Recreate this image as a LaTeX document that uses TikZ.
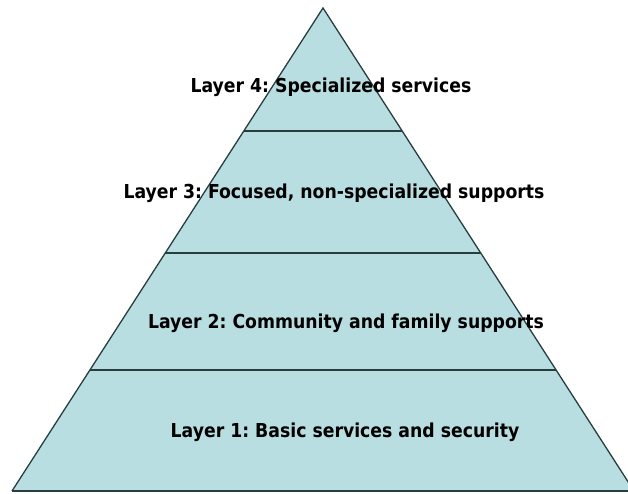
\documentclass[tikz,border=0pt]{standalone}
\usepackage{fontspec}
\setmainfont{DejaVu Sans Condensed}
\usetikzlibrary{calc}
\definecolor{layerfill}{RGB}{184,222,226}
\definecolor{layerline}{RGB}{40,62,62}
\frenchspacing

\begin{document}
\begin{tikzpicture}[x=1pt,y=-1pt,
  layer/.style={font=\bfseries\fontsize{19.2}{21}\selectfont,text=black,inner sep=0pt},
  sep/.style={draw=layerline,line width=2pt}
]
\useasboundingbox (0,0) rectangle (628,493);

% the corners of the pyramid
\coordinate (apex) at (323,8);
\coordinate (bl) at (12,491);
\coordinate (br) at (634,491);

\fill[layerfill] (apex) -- (bl) -- (br) -- cycle;
\draw[layerline,line width=1.3pt] (bl) -- (apex) -- (br);
\draw[sep,line width=2.6pt] (bl) -- (br);

% the lines between the layers
\foreach \t/\n in {0.2547/a,0.5072/b,0.7495/c}{
  \draw[sep] ($(apex)!\t!(bl)$) -- ($(apex)!\t!(br)$);
}

% the labels
\node[layer] (l4) at (331,87) {Layer 4: Specialized services};
\node[layer] (l3) at (334,193) {Layer 3: Focused, non-specialized supports};
\node[layer] (l2) at (346,323) {Layer 2: Community and family supports};
\node[layer] (l1) at (345,432) {Layer 1: Basic services and security};
\end{tikzpicture}
\end{document}
